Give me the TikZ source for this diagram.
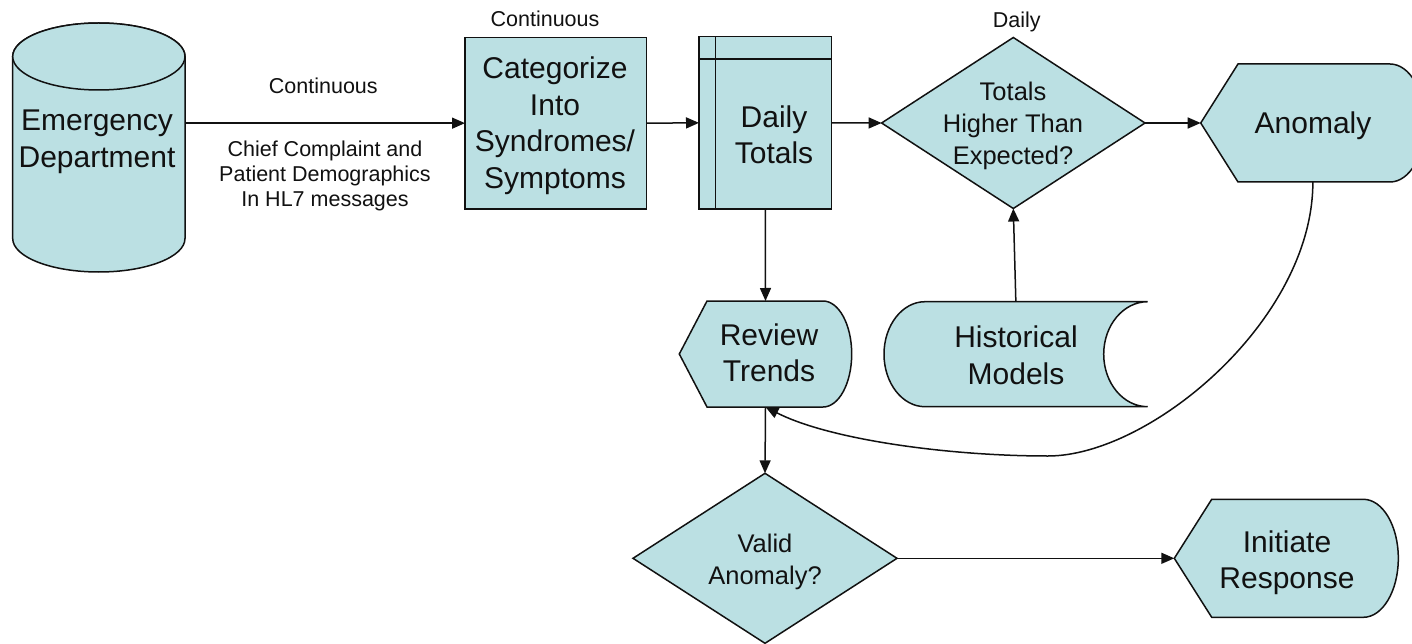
\documentclass[tikz,border=0pt]{standalone}
\usepackage{fontspec}
\setmainfont{Liberation Sans}
\usetikzlibrary{arrows.meta,fit}
\definecolor{boxfill}{HTML}{BBE0E3}
\definecolor{ink}{HTML}{111111}
\begin{document}
\begin{tikzpicture}[x=1pt,y=-1pt,
  shp/.style={draw=ink,fill=boxfill,line width=1.5pt,line join=miter},
  edge/.style={draw=ink,line width=1.5pt},
  arr/.style={draw=ink,line width=1.5pt,-{Triangle[length=13pt,width=11pt]}},
  bnd/.style={inner sep=0pt,outer sep=0pt,draw=none},
  big/.style={font=\fontsize{30}{36.5}\selectfont,align=center,inner sep=0pt,anchor=north,text=ink},
  mid/.style={font=\fontsize{25.5}{32}\selectfont,align=center,inner sep=0pt,anchor=north,text=ink},
  small/.style={font=\fontsize{21.5}{25}\selectfont,align=center,inner sep=0pt,anchor=north,text=ink}]
\useasboundingbox (0,0) rectangle (1412,644);
\fill[white] (0,0) rectangle (1412,644);
\clip (0,0) rectangle (1412,644);

% Emergency Department (cylinder)
\filldraw[shp] (12.7,56.5) -- (12.7,238.5) arc[start angle=180,end angle=0,x radius=86.15,y radius=33.5] -- (185,56.5) arc[start angle=0,end angle=-180,x radius=86.15,y radius=33.5] -- cycle;
\draw[shp] (98.85,56.5) ellipse[x radius=86.15,y radius=33.5];
\node[bnd,fit={(12.7,23) (185,272)}] (ed) {};
\node[big] (edt) at (97,110.1) {Emergency\\Department};

% Categorize box
\filldraw[shp] (465,37.3) rectangle (646.7,209);
\node[bnd,fit={(465,37.3) (646.7,209)}] (cat) {};
\node[big] (catt) at (555,56.7) {Categorize\\Into\\Syndromes/\\Symptoms};

% Daily Totals (internal storage)
\filldraw[shp] (699,36.7) rectangle (831.7,209);
\draw[edge] (715.7,36.7) -- (715.7,209);
\draw[edge] (699,59) -- (831.7,59);
\node[bnd,fit={(699,36.7) (831.7,209)}] (dt) {};
\node[big] (dtt) at (774,105.1) {Daily\\Totals};

% Totals Higher Than Expected? (decision)
\filldraw[shp] (881.6,123) -- (1013.3,37.5) -- (1145,123) -- (1013.3,208.5) -- cycle;
\node[bnd,fit={(881.6,37.5) (1145,208.5)}] (th) {};
\node[mid] (tht) at (1013,81.6) {Totals\\Higher Than\\Expected?};

% Anomaly (display)
\filldraw[shp] (1200.7,123) -- (1238,64) -- (1390,64) arc[start angle=-90,end angle=90,x radius=35,y radius=59] -- (1238,182) -- cycle;
\node[bnd,fit={(1200.7,64) (1425,182)}] (an) {};
\node[big] (ant) at (1313,111.7) {Anomaly};

% Review Trends (display)
\filldraw[shp] (679.3,354) -- (707,301) -- (823,301) arc[start angle=-90,end angle=90,x radius=28.7,y radius=53] -- (707,407) -- cycle;
\node[bnd,fit={(679.3,301) (851.7,407)}] (rt) {};
\node[big] (rtt) at (769,323.4) {Review\\Trends};

% Historical Models (stored data)
\filldraw[shp] (925,301.7) -- (1147.7,301.7) arc[start angle=-90,end angle=-270,x radius=44,y radius=52.5] -- (925,406.7) arc[start angle=90,end angle=270,x radius=41,y radius=52.5] -- cycle;
\node[bnd,fit={(884,301.7) (1147.7,406.7)}] (hm) {};
\node[big] (hmt) at (1016,325.7) {Historical\\Models};

% Valid Anomaly? (decision)
\filldraw[shp] (633,558.3) -- (765,473.3) -- (897,558.3) -- (765,643.3) -- cycle;
\node[bnd,fit={(633,473.3) (897,643.3)}] (va) {};
\node[mid] (vat) at (765,534.3) {Valid\\Anomaly?};

% Initiate Response (display)
\filldraw[shp] (1174.3,558.3) -- (1211.7,499.3) -- (1363.3,499.3) arc[start angle=-90,end angle=90,x radius=35,y radius=59] -- (1211.7,617.3) -- cycle;
\node[bnd,fit={(1174.3,499.3) (1398.3,617.3)}] (ir) {};
\node[big] (irt) at (1287,530.1) {Initiate\\Response};

% labels
\node[small] (l1) at (323.3,77.8) {Continuous};
\node[small] (l2) at (325,141.2) {Chief Complaint and\\Patient Demographics\\In HL7 messages};
\node[small] (l3) at (545,11.2) {Continuous};
\node[small] (l4) at (1016.7,11.7) {Daily};

% connectors
\draw[arr] (cat.west -| ed.east) -- (cat.west);
\draw[arr] (cat.east) -- (dt.west);
\draw[arr] (dt.east) -- (th.west);
\draw[arr] (th.east) -- (an.west);
\draw[arr] (dt.south) -- (rt.north);
\draw[arr] (hm.north) -- (th.south);
\draw[arr] (an.south) .. controls (1313,320) and (1150,456) .. (1048,456) .. controls (950,456) and (830,440) .. (rt.south);
\draw[arr] (rt.south) -- (va.north);
\draw[arr] (va.east) -- (ir.west);
\end{tikzpicture}
\end{document}
